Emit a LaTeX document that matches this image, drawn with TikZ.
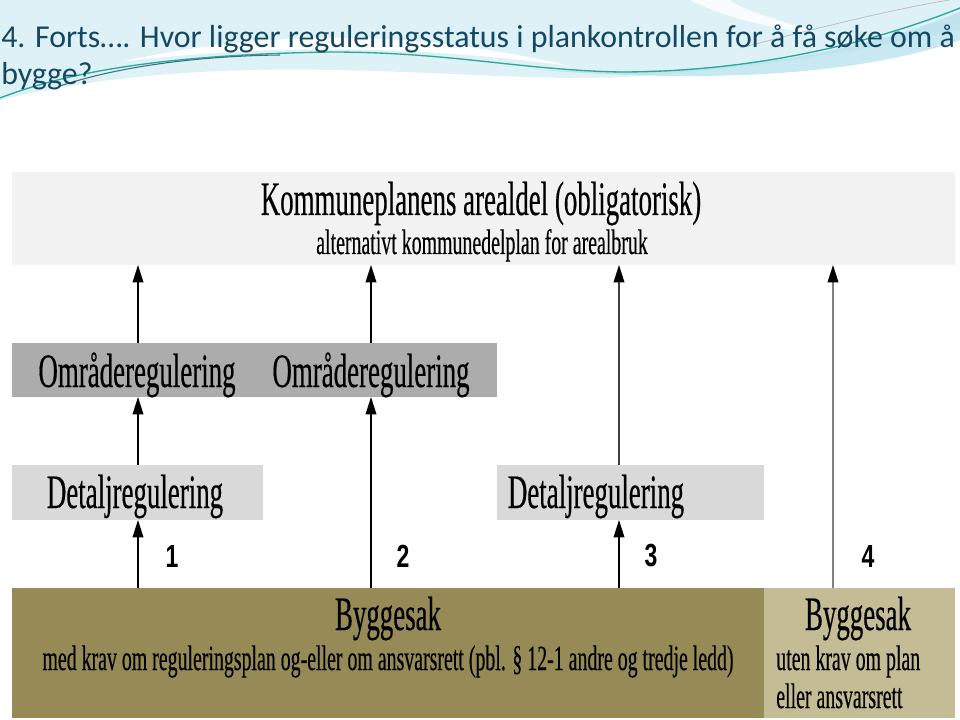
\documentclass[tikz,border=0pt]{standalone}
\usepackage{fontspec}
\setmainfont{Liberation Serif}
\newfontfamily\cond[FakeStretch=0.56,FakeBold=0.3]{Liberation Serif}
\newfontfamily\titlefont{Carlito}
\newfontfamily\numfont[FakeStretch=0.72]{Liberation Sans}
\usetikzlibrary{arrows.meta}
\definecolor{titleblue}{RGB}{20,72,98}
\definecolor{olive}{RGB}{150,139,86}
\definecolor{paleolive}{RGB}{196,188,148}
\definecolor{swoosh}{RGB}{222,241,247}
\definecolor{swooshdark}{RGB}{178,223,236}
\definecolor{swoopline}{RGB}{40,170,150}
\tikzset{
  band/.style={inner sep=0pt,outer sep=0pt},
  bigtxt/.style={font=\cond\fontsize{36}{40}\selectfont,inner sep=0pt},
  smalltxt/.style={font=\cond\fontsize{26.6}{30}\selectfont,inner sep=0pt},
  num/.style={font=\numfont\bfseries\fontsize{24}{28}\selectfont,inner sep=0pt},
  arr/.style={-{Triangle[length=13pt,width=8pt,color=black]},line width=1.1pt}
}
\begin{document}
\begin{tikzpicture}[x=0.75pt,y=-0.75pt]
  \useasboundingbox (0,0) rectangle (960,720);
  % background swoosh
  \fill[swoosh] (0,0) -- (0,100) .. controls (250,40) and (500,90) .. (650,75)
        .. controls (800,65) and (900,40) .. (960,30) -- (960,0) -- cycle;
  \fill[white] (120,62) .. controls (300,22) and (450,38) .. (570,66)
        .. controls (450,50) and (300,40) .. cycle;
  \fill[white,opacity=0.8] (690,0) .. controls (730,20) and (780,30) .. (820,34)
        .. controls (780,20) and (740,10) .. (730,0) -- cycle;
  \fill[swooshdark,opacity=0.7] (540,70) .. controls (750,78) and (880,45) .. (960,12)
        -- (960,40) .. controls (880,68) and (750,86) .. cycle;
  \draw[swoopline,line width=1pt] (0,98) .. controls (60,75) and (150,55) .. (330,52)
        .. controls (450,52) and (520,70) .. (620,72) .. controls (760,72) and (880,40) .. (960,8);
  \draw[titleblue!80,line width=0.8pt] (60,86) .. controls (120,66) and (200,56) .. (280,55);
  \draw[gray!50,line width=0.6pt] (740,48) .. controls (840,22) and (910,6) .. (950,0);
  % title
  \node[anchor=base west,inner sep=0pt,text=titleblue,align=left,
        font=\titlefont\fontsize{23.9}{27.75}\selectfont] (title) at (1,85)
        {4. Forts…. Hvor ligger reguleringsstatus i plankontrollen for å få søke om å\\bygge?};
  % bands
  \node[band,fill=gray!10,minimum width=707.25pt,minimum height=69.75pt] (kpa) at (483.5,218.5) {};
  \node[band,fill=gray!65,minimum width=363.75pt,minimum height=40.5pt] (omr) at (254.5,370) {};
  \node[band,fill=gray!30,minimum width=188.25pt,minimum height=41.25pt] (detA) at (137.5,492.5) {};
  \node[band,fill=gray!30,minimum width=200.25pt,minimum height=41.25pt] (detC) at (630.5,492.5) {};
  \node[band,fill=olive,minimum width=564pt,minimum height=97.5pt] (bygg) at (388,653) {};
  \node[band,fill=paleolive,minimum width=143.25pt,minimum height=97.5pt] (byggR) at (859.5,653) {};
  % texts
  \node[bigtxt,anchor=base] (kpatxt) at (481,215) {Kommuneplanens arealdel (obligatorisk)};
  \node[smalltxt,anchor=base] (kpasub) at (482,254) {alternativt kommunedelplan for arealbruk};
  \node[bigtxt,anchor=base] (omrA) at (137,387) {Områderegulering};
  \node[bigtxt,anchor=base] (omrB) at (371,387) {Områderegulering};
  \node[bigtxt,anchor=base] (detAtxt) at (135,508) {Detaljregulering};
  \node[bigtxt,anchor=base] (detCtxt) at (596,508) {Detaljregulering};
  \node[bigtxt,anchor=base] (byggtxt) at (388,630) {Byggesak};
  \node[smalltxt,anchor=base] (byggsub) at (388,670) {med krav om reguleringsplan og-eller om ansvarsrett (pbl. § 12-1 andre og tredje ledd)};
  \node[bigtxt,anchor=base] (byggRtxt) at (858,630) {Byggesak};
  \node[smalltxt,anchor=base west,align=left] (byggRsub) at (776,708) {uten krav om plan\\[-1.5pt]eller ansvarsrett};
  % numbers
  \node[num] (n1) at (172,556) {1};
  \node[num] (n2) at (403,556) {2};
  \node[num] (n3) at (651,556) {3};
  \node[num] (n4) at (868,556) {4};
  % columns
  \coordinate (c1) at (138,0);
  \coordinate (c2) at (371,0);
  \coordinate (c3) at (619,0);
  \coordinate (c4) at (833,0);
  % arrows
  \draw[arr] (omr.north -| c1) -- (kpa.south -| c1);
  \draw[arr] (omr.north -| c2) -- (kpa.south -| c2);
  \draw[arr,black!75] (detC.north -| c3) -- (kpa.south -| c3);
  \draw[arr,gray] (byggR.north -| c4) -- (kpa.south -| c4);
  \draw[arr] (detA.north -| c1) -- (omr.south -| c1);
  \draw[arr] (bygg.north -| c2) -- (omr.south -| c2);
  \draw[arr] (bygg.north -| c1) -- (detA.south -| c1);
  \draw[arr] (bygg.north -| c3) -- (detC.south -| c3);
\end{tikzpicture}
\end{document}
